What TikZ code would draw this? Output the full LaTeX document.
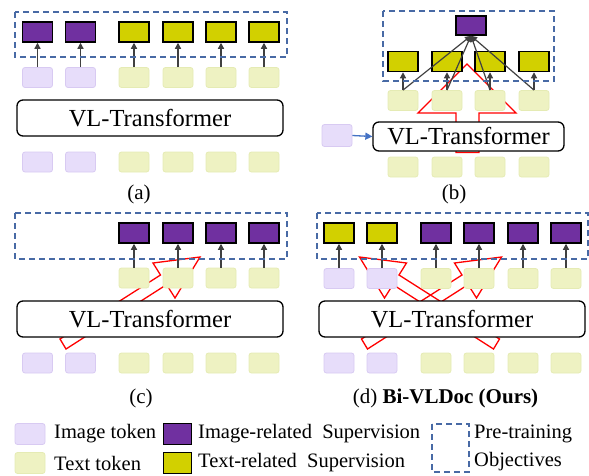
\documentclass[tikz,border=0pt]{standalone}
\usepackage{fontspec}
\setmainfont{Liberation Serif}
\usetikzlibrary{arrows.meta}

\definecolor{supP}{RGB}{112,48,160}
\definecolor{supY}{RGB}{210,208,0}
\definecolor{tokP}{RGB}{231,221,250}
\definecolor{tokPb}{RGB}{216,202,242}
\definecolor{tokY}{RGB}{238,242,194}
\definecolor{tokYb}{RGB}{229,235,180}
\definecolor{objB}{RGB}{72,106,165}
\definecolor{arrG}{RGB}{64,64,64}
\definecolor{redL}{RGB}{255,0,0}
\definecolor{blueA}{RGB}{68,114,196}

\tikzset{
  tok/.style={minimum width=30pt, minimum height=20pt, inner sep=0pt, rounded corners=2.5pt, line width=0.8pt},
  imgtok/.style={tok, fill=tokP, draw=tokPb},
  txttok/.style={tok, fill=tokY, draw=tokYb},
  sup/.style={minimum width=30pt, minimum height=20pt, inner sep=0pt, draw=black, line width=1.5pt},
  imgsup/.style={sup, fill=supP},
  txtsup/.style={sup, fill=supY},
  vlt/.style={draw=black, fill=white, rounded corners=6pt, line width=1.3pt, inner sep=0pt, font=\fontsize{24.5}{27}\selectfont},
  obj/.style={draw=objB, dash pattern=on 6pt off 4pt, line width=1.3pt},
  sarr/.style={draw=arrG, line width=1.2pt, -{Triangle[length=6pt,width=6pt]}},
  barr/.style={draw=blueA, line width=1.3pt, -{Triangle[length=7pt,width=7pt]}},
  redarrow/.style={draw=redL, line width=1.3pt, line join=miter},
  lbl/.style={font=\fontsize{21}{24}\selectfont, inner sep=0pt},
  leg/.style={font=\fontsize{20.5}{23}\selectfont, inner sep=0pt, anchor=west}
}

\begin{document}
\begin{tikzpicture}[x=1pt,y=-1pt]
\useasboundingbox (0,0) rectangle (589,475);

% ---------------- (a) ----------------
\foreach \x [count=\i] in {37.5,80.5} {
  \node[imgtok] (at\i) at (\x,77.5) {};
  \node[imgtok] (ab\i) at (\x,162) {};
  \node[imgsup] (as\i) at (\x,32) {};
}
\foreach \x [count=\i from 3] in {134,178,221,264} {
  \node[txttok] (at\i) at (\x,77.5) {};
  \node[txttok] (ab\i) at (\x,162) {};
  \node[txtsup] (as\i) at (\x,32) {};
}
\node[vlt, minimum width=266pt, minimum height=36pt] (avlt) at (150,118) {VL-Transformer};
\foreach \i in {1,...,6} { \draw[sarr] (at\i.north) -- (as\i.south); }
\draw[obj] (15,12) rectangle (287,57);
\node[lbl] (alab) at (139,194) {(a)};

% ---------------- (b) ----------------
\draw[redarrow] (456,152.5) -- (456,113) -- (418,113) -- (467,64) -- (516,113) -- (479,113) -- (479,152.5) -- cycle;
\foreach \x [count=\i] in {403,447,490,534} {
  \node[txttok] (bt\i) at (\x,100.5) {};
  \node[txttok] (bb\i) at (\x,167) {};
  \node[txtsup] (bs\i) at (\x,61.5) {};
}
\node[imgsup, minimum height=19pt] (bp) at (471,25.5) {};
\node[imgtok, minimum height=22pt] (bimg) at (337,135.5) {};
\node[vlt, minimum width=191pt, minimum height=29pt] (bvlt) at (468.5,136.5) {VL-Transformer};
\draw[barr] (bimg.east) -- (bvlt.west);
\foreach \i in {1,...,4} {
  \draw[sarr] (bt\i.north) -- (bs\i.south);
  \draw[sarr] (bt\i.north) -- (bp.south);
}
\draw[obj] (383,11) rectangle (554,81);
\node[lbl] (blab) at (454,194) {(b)};

% ---------------- (c) ----------------
\draw[redarrow] (60,339) -- (160.5,275) -- (153,263) -- (200,257) -- (175,298) -- (166.6,284.6) -- (66,349) -- cycle;
\foreach \x [count=\i] in {37.5,80.5} {
  \node[imgtok] (cb\i) at (\x,363) {};
}
\foreach \x [count=\i from 3] in {134,178,221,264} {
  \node[txttok] (ct\i) at (\x,278) {};
  \node[txttok] (cb\i) at (\x,363) {};
  \node[imgsup] (cs\i) at (\x,233) {};
}
\node[vlt, minimum width=266pt, minimum height=36pt] (cvlt) at (150,319) {VL-Transformer};
\foreach \i in {3,...,6} { \draw[sarr] (ct\i.north) -- (cs\i.south); }
\draw[obj] (15,213) rectangle (287,259);
\node[lbl] (clab) at (141,398) {(c)};

% ---------------- (d) ----------------
\draw[redarrow] (361.5,339) -- (462,275) -- (454.5,263) -- (501.5,257) -- (476.5,298) -- (468.1,284.6) -- (367.5,349) -- cycle;
\draw[redarrow] (499.5,339) -- (399,275) -- (406.5,263) -- (359.5,257) -- (384.5,298) -- (392.9,284.6) -- (493.5,349) -- cycle;
\foreach \x [count=\i] in {339,382} {
  \node[imgtok] (dt\i) at (\x,278.5) {};
  \node[imgtok] (db\i) at (\x,363) {};
  \node[txtsup] (ds\i) at (\x,233) {};
}
\foreach \x [count=\i from 3] in {436,479,523,566} {
  \node[txttok] (dt\i) at (\x,278.5) {};
  \node[txttok] (db\i) at (\x,363) {};
  \node[imgsup] (ds\i) at (\x,233) {};
}
\node[vlt, minimum width=266pt, minimum height=36pt] (dvlt) at (452,319) {VL-Transformer};
\foreach \i in {1,...,6} { \draw[sarr] (dt\i.north) -- (ds\i.south); }
\draw[obj] (317,213) rectangle (588,259);
\node[lbl] (dlab) at (445.5,398) {(d) \textbf{Bi-VLDoc (Ours)}};

% ---------------- legend ----------------
\node[imgtok, minimum width=30pt, minimum height=21pt] (l1) at (30,434) {};
\node[leg] (l1t) at (54,434) {Image token};
\node[txttok, minimum width=30pt, minimum height=21pt] (l2) at (30,463) {};
\node[leg] (l2t) at (54,463) {Text token};
\node[imgsup, minimum width=28pt, minimum height=21pt] (l3) at (177.5,434) {};
\node[leg] (l3t) at (198,434) {Image-related\ \ Supervision};
\node[txtsup, minimum width=28pt, minimum height=21pt] (l4) at (177.5,463) {};
\node[leg] (l4t) at (198,463) {Text-related\ \ Supervision};
\draw[obj] (432,424) rectangle (469,472);
\node[leg] (l5t) at (474,434) {Pre-training};
\node[leg] (l6t) at (474,462) {Objectives};
\end{tikzpicture}
\end{document}
